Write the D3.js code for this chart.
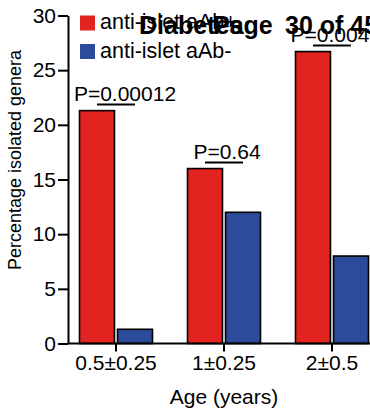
<!DOCTYPE html>
<html>
<head>
<meta charset="utf-8">
<script src="https://cdn.jsdelivr.net/npm/d3@7"></script>
<style>
  html, body { margin: 0; padding: 0; background: #fff; overflow: hidden; }
  svg { display: block; font-family: "Liberation Sans", Arial, Helvetica, sans-serif; }
</style>
</head>
<body>
<svg id="chart" width="370" height="412"></svg>
<script>
// ---- data ----
const categories = ["0.5\u00b10.25", "1\u00b10.25", "2\u00b10.5"];
const seriesNames = ["anti-islet aAb+", "anti-islet aAb-"];
const aabPositive = [21.3, 16.0, 26.7];
const aabNegative = [1.3, 12.0, 8.0];
const pValues = ["P=0.00012", "P=0.64", "P=0.004"];
const yTicks = [0, 5, 10, 15, 20, 25, 30];
const seriesColors = ["#e2231f", "#2c4b9b"];

// ---- layout ----
const svg = d3.select("#chart");
const plotTop = 15.5, plotBottom = 343.5, axisX = 68;

const y = d3.scaleLinear().domain([0, 30]).range([plotBottom, plotTop]);
const x = d3.scaleBand().domain(categories).range([62, 386]).padding(0);
const xSub = d3.scaleBand().domain(seriesNames).range([-36.5, 36.5]).paddingInner(0.08);

const rows = categories.map((c, i) => ({
  cat: c,
  vals: [aabPositive[i], aabNegative[i]],
  p: pValues[i]
}));

// bars
const g = svg.append("g");
rows.forEach(r => {
  const cx = x(r.cat) + x.bandwidth() / 2;
  r.vals.forEach((v, j) => {
    g.append("rect")
      .attr("x", cx + xSub(seriesNames[j]))
      .attr("y", y(v))
      .attr("width", xSub.bandwidth())
      .attr("height", y(0) - y(v))
      .attr("fill", seriesColors[j])
      .attr("stroke", "#000")
      .attr("stroke-width", 1.6);
  });
});

// y axis
const yAxis = d3.axisLeft(y).tickValues(yTicks).tickSize(10).tickSizeOuter(0).tickPadding(2);
const ya = svg.append("g").attr("transform", `translate(${axisX},0)`).call(yAxis);
ya.selectAll("text").style("font-size", "21px").attr("fill", "#000");
ya.selectAll("line, path").attr("stroke", "#000").attr("stroke-width", 2);

// x axis
const xAxis = d3.axisBottom(x).tickSize(8).tickSizeOuter(0).tickPadding(4);
const xa = svg.append("g").attr("transform", `translate(0,${plotBottom})`).call(xAxis);
xa.select(".domain").attr("d", `M${axisX},0H370`);
xa.selectAll("text").style("font-size", "21px").attr("fill", "#000");
xa.selectAll("line, path").attr("stroke", "#000").attr("stroke-width", 2);

// axis titles
svg.append("text")
  .attr("transform", "translate(20.5,160) rotate(-90)")
  .attr("text-anchor", "middle")
  .style("font-size", "18px")
  .text("Percentage isolated genera");
svg.append("text")
  .attr("x", 224).attr("y", 404)
  .attr("text-anchor", "middle")
  .style("font-size", "21px")
  .text("Age (years)");

// p-value annotations
const pLabelDx = [9, 3, -2];
rows.forEach((r, i) => {
  const cx = x(r.cat) + x.bandwidth() / 2;
  const top = y(d3.max(r.vals));
  const lineY = top - 6;
  const x1 = cx + xSub(seriesNames[0]) + xSub.bandwidth() / 2;
  const x2 = cx + xSub(seriesNames[1]) + xSub.bandwidth() / 2;
  svg.append("line")
    .attr("x1", x1).attr("x2", x2).attr("y1", lineY).attr("y2", lineY)
    .attr("stroke", "#000").attr("stroke-width", 2);
  svg.append("text")
    .attr("x", cx + pLabelDx[i]).attr("y", lineY - 4)
    .attr("text-anchor", "middle")
    .style("font-size", "21px")
    .text(r.p);
});

// legend
const legend = svg.append("g").attr("transform", "translate(80,15.5)");
seriesNames.forEach((s, j) => {
  legend.append("rect")
    .attr("x", 0).attr("y", j * 28.5)
    .attr("width", 15).attr("height", 15)
    .attr("fill", seriesColors[j]);
  legend.append("text")
    .attr("x", 20).attr("y", j * 28.5 + 13.5)
    .style("font-size", "21.5px")
    .text(s);
});

// page header overlay
svg.append("text")
  .attr("x", 139).attr("y", 34)
  .style("font-size", "25px").style("font-weight", "bold")
  .text("Diabetes");
const pg = svg.append("text")
  .attr("x", 213).attr("y", 34)
  .style("font-size", "25px").style("font-weight", "bold");
pg.append("tspan").text("Page");
pg.append("tspan").attr("x", 285).text("30 of 45");
</script>
</body>
</html>
